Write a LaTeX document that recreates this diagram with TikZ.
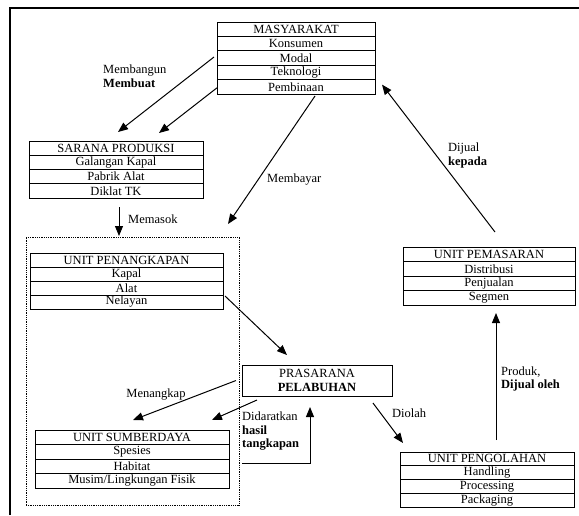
\documentclass[tikz,border=0pt]{standalone}
\usepackage{fontspec}
\setmainfont{Liberation Serif}[BoldFont={Liberation Serif Bold}]
\usetikzlibrary{arrows.meta}
\newcommand\mktable[6]{%
  \foreach \txt [count=\i from 0] in {#6} {%
    \node[cell, minimum width=#4pt, minimum height=#5pt] (#1-\i) at (#2, {#3+#5*(\i+0.5)}) {\txt};
  }}
\begin{document}
\begin{tikzpicture}[x=1pt,y=-1pt,
  cell/.style={draw, line width=0.8pt, inner sep=0pt, outer sep=0pt, font=\fontsize{12.5}{14}\selectfont},
  lbl/.style={inner sep=0pt, anchor=west, align=left, font=\fontsize{12.5}{14}\selectfont},
  arr/.style={line width=1pt, -{Triangle[length=10pt,width=8pt]}}]
\useasboundingbox (0,0) rectangle (579,515);
% frame
\draw[line width=1.2pt] (10,515) -- (10,8) -- (579,8);
% tables
\mktable{m}{296}{22}{158}{14.4}{MASYARAKAT,Konsumen,Modal,Teknologi,Pembinaan}
\mktable{s}{116}{141}{174}{14.25}{SARANA PRODUKSI,Galangan Kapal,Pabrik Alat,Diklat TK}
\mktable{p}{489}{247}{172}{14.5}{UNIT PEMASARAN,Distribusi,Penjualan,Segmen}
\mktable{k}{126.5}{253}{193}{14}{UNIT PENANGKAPAN,Kapal,Alat,Nelayan}
\mktable{u}{132}{430}{194}{14.5}{UNIT SUMBERDAYA,Spesies,Habitat,{Musim/Lingkungan Fisik}}
\mktable{g}{487}{452}{174}{13.75}{UNIT PENGOLAHAN,Handling,Processing,Packaging}
% dotted box
\node[draw, densely dotted, line width=0.8pt, minimum width=213pt, minimum height=268pt, inner sep=0pt, outer sep=0pt] (dot) at (132.5,371) {};
% prasarana
\node[draw, line width=0.8pt, minimum width=150pt, minimum height=31pt, inner sep=0pt, outer sep=0pt, align=center, font=\fontsize{12.5}{14}\selectfont] (pr) at (317,380.5) {PRASARANA\\\textbf{PELABUHAN}};
% arrows
\draw[arr] ([xshift=-3pt,yshift=1pt]m-2.west) -- ([xshift=2pt,yshift=9pt]s-0.north);
\draw[arr] ([xshift=0pt,yshift=-1pt]m-4.west) -- ([xshift=43pt,yshift=8pt]s-0.north);
\draw[arr] ([xshift=19pt,yshift=-2pt]m-4.south) -- ([xshift=-11pt,yshift=13pt]dot.north east);
\draw[arr] ([xshift=6pt,yshift=15pt]p-0.north) -- ([xshift=7pt,yshift=-5pt]m-4.north east);
\draw[arr] ([xshift=3pt,yshift=-9pt]s-3.south) -- ([xshift=-13.5pt,yshift=1pt]dot.north);
\draw[arr] ([xshift=2pt,yshift=-1pt]k-3.north east) -- ([xshift=45pt,yshift=10pt]pr.north west);
\draw[arr] ([xshift=-6pt]pr.west) -- ([xshift=1pt,yshift=10pt]u-0.north);
\draw[arr] ([xshift=15pt,yshift=-4pt]pr.south west) -- ([xshift=-17pt,yshift=10pt]u-0.north east);
\coordinate (d0) at (242,463);
\draw[arr] (d0) -- (310,463) -- ([xshift=-7pt,yshift=-11pt]pr.south);
\draw[arr] ([xshift=-19pt,yshift=-7pt]pr.south east) -- ([xshift=3pt,yshift=9pt]g-0.north west);
\draw[arr] ([xshift=9pt,yshift=12pt]g-0.north) -- ([xshift=7pt,yshift=-8pt]p-3.south);
% labels
\node[lbl] (l1) at (103,76.5) {Membangun\\\textbf{Membuat}};
\node[lbl] (l2) at (267,180) {Membayar};
\node[lbl] (l3) at (448,155) {Dijual\\\textbf{kepada}};
\node[lbl] (l4) at (128,219) {Memasok};
\node[lbl, anchor=center] (l5) at (156,395) {Menangkap};
\node[lbl, font=\fontsize{12.5}{13.5}\selectfont] (l6) at (242,431.5) {Didaratkan\\\textbf{hasil}\\\textbf{tangkapan}};
\node[lbl] (l7) at (392,413) {Diolah};
\node[lbl, font=\fontsize{12.5}{13}\selectfont] (l8) at (501,378.5) {Produk,\\\textbf{Dijual oleh}};
\end{tikzpicture}
\end{document}
